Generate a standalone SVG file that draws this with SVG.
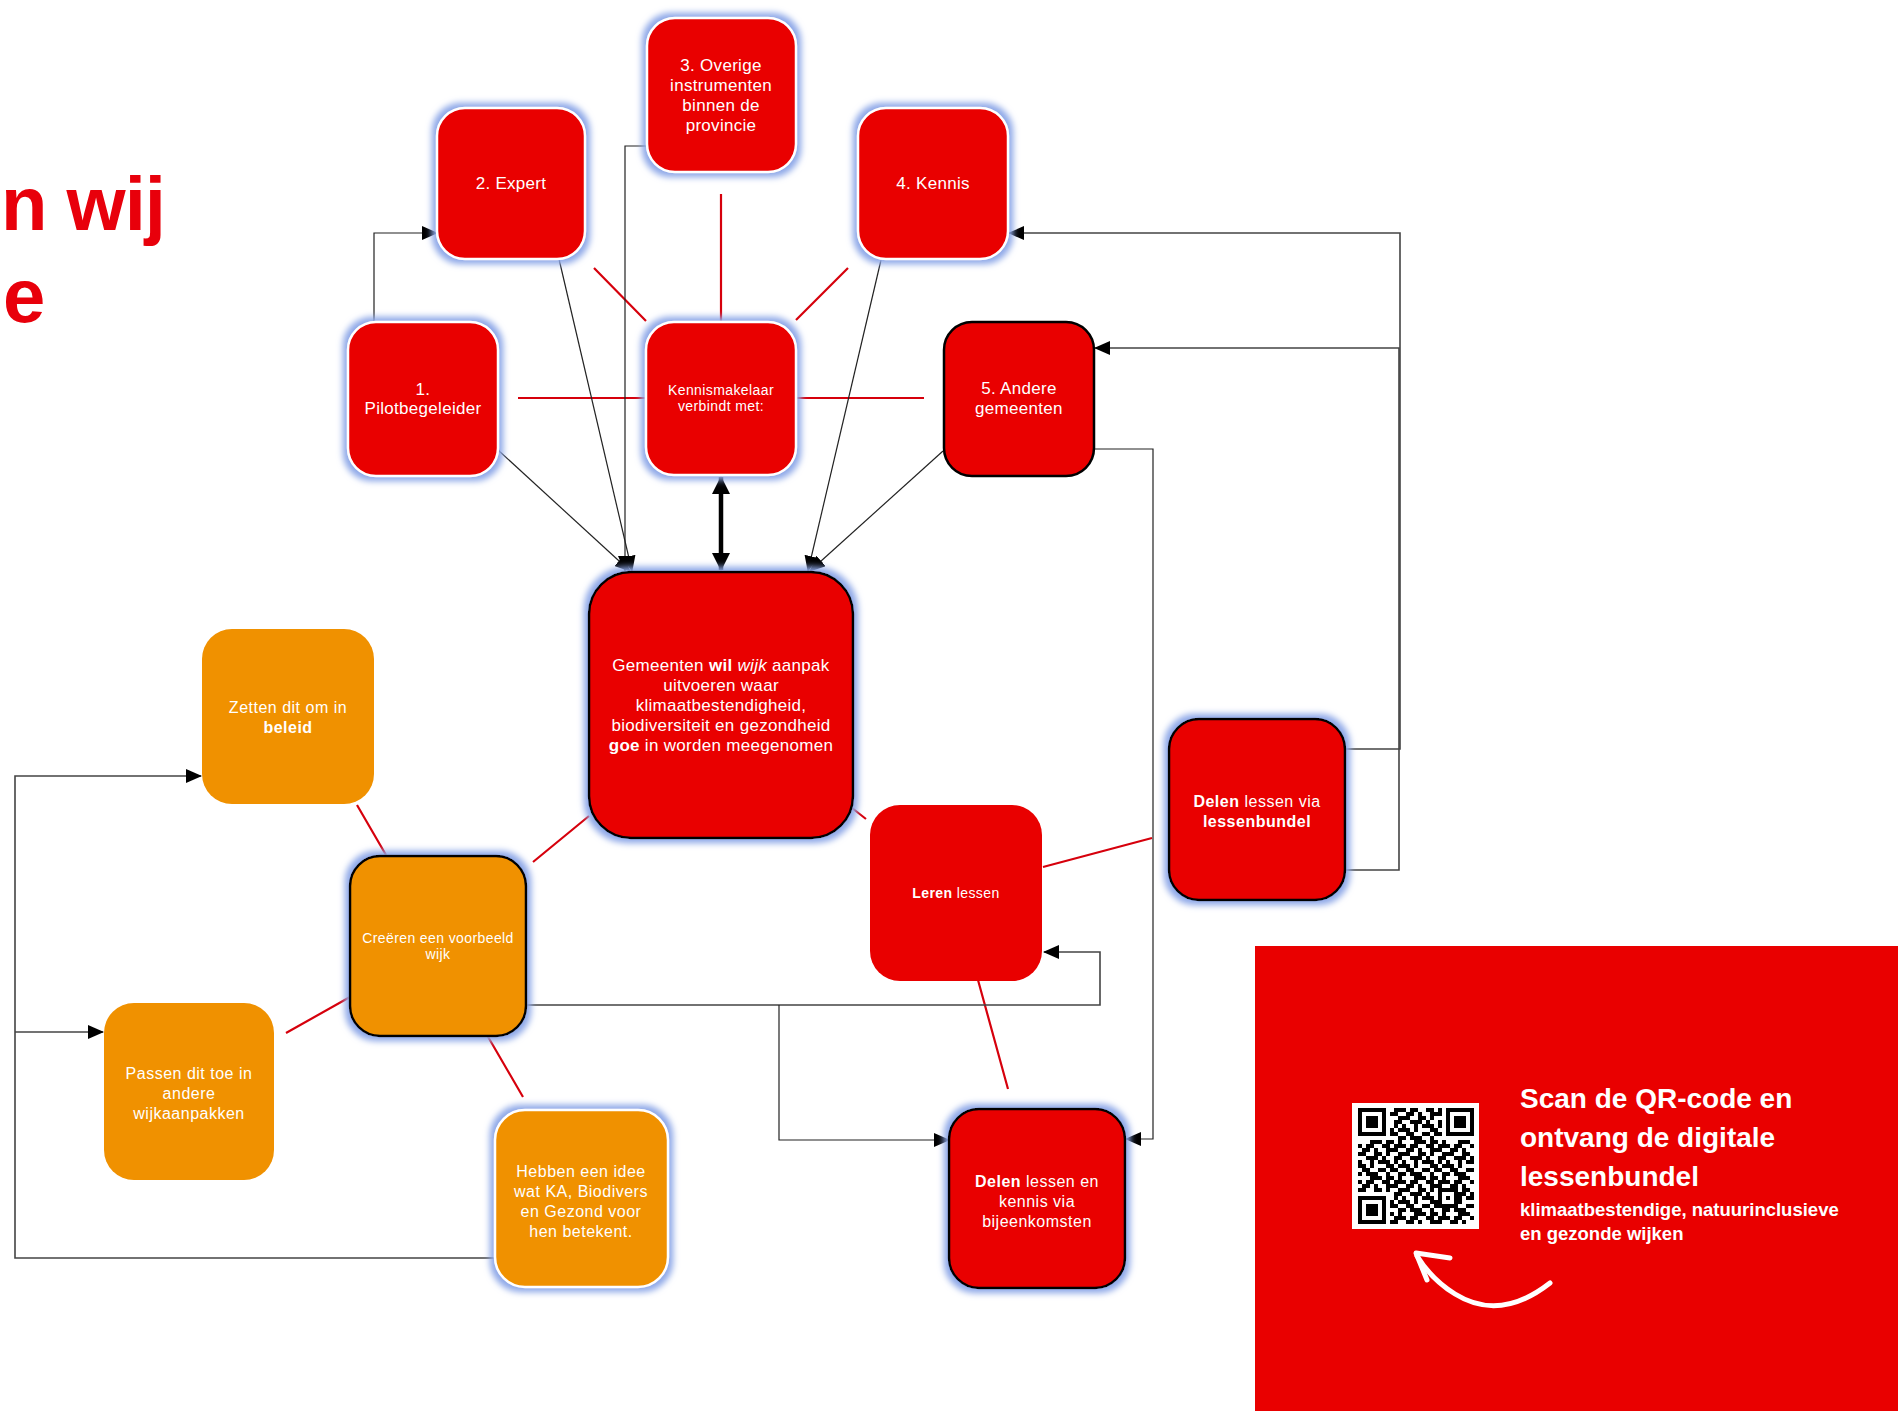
<svg xmlns="http://www.w3.org/2000/svg" width="1898" height="1411" viewBox="0 0 1898 1411">
<style>
.r{fill:#E90000}
.o{fill:#F09100}
.w{stroke:#fff;stroke-width:2.5}
.k{stroke:#000;stroke-width:2.5}
.g{filter:url(#glow)}
.t{font-family:"Liberation Sans",Arial,sans-serif;fill:#fff;text-anchor:middle;letter-spacing:0.5px;font-size:16px}
.t17{font-size:17px;letter-spacing:0.3px}
.t14{font-size:14px;letter-spacing:0.4px}
.b{font-weight:bold}
.c{fill:none;stroke:#222;stroke-width:1.2}
.cg{fill:none;stroke:#444;stroke-width:1.6}
.rl{fill:none;stroke:#D6000C;stroke-width:2.2}
</style>
<defs>
<filter id="glow" x="-20%" y="-20%" width="140%" height="140%">
<feMorphology in="SourceAlpha" operator="dilate" radius="4" result="d"/>
<feGaussianBlur in="d" stdDeviation="3" result="bl"/>
<feFlood flood-color="#8EA8E8"/>
<feComposite in2="bl" operator="in" result="gl"/>
<feMerge><feMergeNode in="gl"/><feMergeNode in="SourceGraphic"/></feMerge>
</filter>
<marker id="ah" markerUnits="userSpaceOnUse" markerWidth="16" markerHeight="14" refX="15" refY="7" orient="auto"><path d="M0,0 L16,7 L0,14 z" fill="#000"/></marker>
<marker id="ahb" markerUnits="userSpaceOnUse" markerWidth="18" markerHeight="18" refX="17" refY="9" orient="auto-start-reverse"><path d="M0,0 L18,9 L0,18 z" fill="#000"/></marker>
<pattern id="qrp" patternUnits="userSpaceOnUse" x="1358" y="1108" width="44" height="36">
<path fill="#000" d="M0,0h4v4h-4z M8,0h8v4h-8z M24,0h8v4h-8z M36,0h8v4h-8z M4,4h8v4h-8z M16,4h4v4h-4z M28,4h12v4h-12z M0,8h8v4h-8z M16,8h8v4h-8z M28,8h4v4h-4z M40,8h4v4h-4z M8,12h12v4h-12z M24,12h4v4h-4z M36,12h8v4h-8z M0,16h4v4h-4z M12,16h4v4h-4z M20,16h12v4h-12z M36,16h4v4h-4z M0,20h8v4h-8z M12,20h4v4h-4z M28,20h8v4h-8z M40,20h4v4h-4z M4,24h8v4h-8z M20,24h8v4h-8z M32,24h8v4h-8z M0,28h4v4h-4z M8,28h12v4h-12z M28,28h4v4h-4z M40,28h4v4h-4z M12,32h12v4h-12z M28,32h8v4h-8z M40,32h4v4h-4z"/>
</pattern>
</defs>
<rect width="1898" height="1411" fill="#fff"/>

<g id="title" font-family="'Liberation Sans',Arial,sans-serif" font-weight="bold" font-size="76" fill="#E8000B">
<text x="1" y="230" letter-spacing="-1">n wij</text>
<text x="3" y="322">e</text>
</g>

<g id="connectors">
<path class="rl" d="M518,398 H646 M796,398 H924 M721,194 V322 M594,268 L646,321 M848,268 L796,320"/>
<path class="rl" d="M589,816 L533,862 M357,805 L386,855 M286,1033 L350,997 M487,1035 L523,1097 M852,808 L866,819 M1043,867 L1152,838 M978,980 L1008,1089"/>
<path class="c" d="M374,322 V233 H437" marker-end="url(#ah)"/>
<path class="c" d="M498,450 L630,571" marker-end="url(#ah)"/>
<path class="c" d="M559,259 L632,571" marker-end="url(#ah)"/>
<path class="c" d="M646,146 H625 V571" marker-end="url(#ah)"/>
<path class="c" d="M881,260 L808,571" marker-end="url(#ah)"/>
<path class="c" d="M943,451 L810,571" marker-end="url(#ah)"/>
<path d="M721,477 V570" stroke="#000" stroke-width="4.5" fill="none" marker-start="url(#ahb)" marker-end="url(#ahb)"/>
<path class="cg" d="M1345,749 H1400 V233 H1009" marker-end="url(#ah)"/>
<path class="cg" d="M1345,870 H1399 V348 H1095" marker-end="url(#ah)"/>
<path class="c" d="M1094,449 H1153 V1139 H1126" marker-end="url(#ah)"/>
<path class="cg" d="M526,1005 H1100 V952 H1044" marker-end="url(#ah)"/>
<path class="c" d="M779,1005 V1140 H949" marker-end="url(#ah)"/>
<path class="cg" d="M495,1258 H15 V776 H201" marker-end="url(#ah)"/>
<path class="cg" d="M15,1032 H103" marker-end="url(#ah)"/>
</g>

<g id="n1"><rect class="r w g" x="348" y="322" width="150" height="154" rx="28"/>
<text class="t t17" x="423"><tspan x="423" y="395">1.</tspan><tspan x="423" y="414">Pilotbegeleider</tspan></text></g>

<g id="n2"><rect class="r w g" x="437" y="108" width="148" height="151" rx="28"/>
<text class="t t17" x="511" y="189">2. Expert</text></g>

<g id="n3"><rect class="r w g" x="647" y="18" width="149" height="154" rx="28"/>
<text class="t t17"><tspan x="721" y="71">3. Overige</tspan><tspan x="721" y="91">instrumenten</tspan><tspan x="721" y="111">binnen de</tspan><tspan x="721" y="131">provincie</tspan></text></g>

<g id="km"><rect class="r w g" x="646" y="322" width="150" height="153" rx="28"/>
<text class="t t14"><tspan x="721" y="395">Kennismakelaar</tspan><tspan x="721" y="411">verbindt met:</tspan></text></g>

<g id="n4"><rect class="r w g" x="858" y="108" width="150" height="151" rx="28"/>
<text class="t t17" x="933" y="189">4. Kennis</text></g>

<g id="n5"><rect class="r k" x="944" y="322" width="150" height="154" rx="28"/>
<text class="t t17"><tspan x="1019" y="394">5. Andere</tspan><tspan x="1019" y="414">gemeenten</tspan></text></g>

<g id="central"><rect class="r k g" x="589" y="572" width="264" height="266" rx="42"/>
<text class="t t17"><tspan x="721" y="671">Gemeenten <tspan class="b">wil</tspan> <tspan font-style="italic">wijk</tspan> aanpak</tspan><tspan x="721" y="691">uitvoeren waar</tspan><tspan x="721" y="711">klimaatbestendigheid,</tspan><tspan x="721" y="731">biodiversiteit en gezondheid</tspan><tspan x="721" y="751"><tspan class="b">goe</tspan> in worden meegenomen</tspan></text></g>

<g id="leren"><rect class="r" x="870" y="805" width="172" height="176" rx="30"/>
<text class="t t14" x="956" y="898"><tspan class="b">Leren</tspan> lessen</text></g>

<g id="bundel"><rect class="r k g" x="1169" y="719" width="176" height="181" rx="30"/>
<text class="t"><tspan x="1257" y="807"><tspan class="b">Delen</tspan> lessen via</tspan><tspan x="1257" y="827" class="b">lessenbundel</tspan></text></g>

<g id="bijeen"><rect class="r k g" x="949" y="1109" width="176" height="179" rx="30"/>
<text class="t"><tspan x="1037" y="1187"><tspan class="b">Delen</tspan> lessen en</tspan><tspan x="1037" y="1207">kennis via</tspan><tspan x="1037" y="1227">bijeenkomsten</tspan></text></g>

<g id="zetten"><rect class="o" x="202" y="629" width="172" height="175" rx="30"/>
<text class="t"><tspan x="288" y="713">Zetten dit om in</tspan><tspan x="288" y="733" class="b">beleid</tspan></text></g>

<g id="creeren"><rect class="o k g" x="350" y="856" width="176" height="180" rx="30"/>
<text class="t t14"><tspan x="438" y="943">Creëren een voorbeeld</tspan><tspan x="438" y="959">wijk</tspan></text></g>

<g id="passen"><rect class="o" x="104" y="1003" width="170" height="177" rx="30"/>
<text class="t"><tspan x="189" y="1079">Passen dit toe in</tspan><tspan x="189" y="1099">andere</tspan><tspan x="189" y="1119">wijkaanpakken</tspan></text></g>

<g id="hebben"><rect class="o w g" x="495" y="1110" width="173" height="177" rx="30"/>
<text class="t"><tspan x="581" y="1177">Hebben een idee</tspan><tspan x="581" y="1197">wat KA, Biodivers</tspan><tspan x="581" y="1217">en Gezond voor</tspan><tspan x="581" y="1237">hen betekent.</tspan></text></g>

<g id="qr-panel">
<rect x="1255" y="946" width="643" height="465" fill="#E90000"/>
<rect x="1352" y="1103" width="127" height="126" fill="#fff"/>
<rect x="1358" y="1108" width="116" height="116" fill="url(#qrp)"/>
<rect x="1358" y="1108" width="32" height="32" fill="#fff"/>
<rect x="1442" y="1108" width="32" height="32" fill="#fff"/>
<rect x="1358" y="1192" width="32" height="32" fill="#fff"/>
<g fill="#000">
<path fill-rule="evenodd" d="M1358,1108h28v28h-28z M1362,1112v20h20v-20z M1366,1116h12v12h-12z"/>
<path fill-rule="evenodd" d="M1446,1108h28v28h-28z M1450,1112v20h20v-20z M1454,1116h12v12h-12z"/>
<path fill-rule="evenodd" d="M1358,1196h28v28h-28z M1362,1200v20h20v-20z M1366,1204h12v12h-12z"/>
</g>
<rect x="1438" y="1188" width="20" height="20" fill="#fff"/>
<path fill="#000" fill-rule="evenodd" d="M1438,1188h20v20h-20z M1442,1192v12h12v-12z M1446,1196h4v4h-4z"/>
<g font-family="'Liberation Sans',Arial,sans-serif" font-weight="bold" fill="#fff">
<text x="1520" y="1108" font-size="28">Scan de QR-code en</text>
<text x="1520" y="1147" font-size="28">ontvang de digitale</text>
<text x="1520" y="1186" font-size="28">lessenbundel</text>
<text x="1520" y="1216" font-size="18.5">klimaatbestendige, natuurinclusieve</text>
<text x="1520" y="1240" font-size="18.5">en gezonde wijken</text>
</g>
<path d="M1550,1283 Q1500,1322 1455,1294 Q1432,1280 1417,1256" fill="none" stroke="#fff" stroke-width="5" stroke-linecap="round"/>
<path d="M1450,1258 L1416,1253 L1427,1280" fill="none" stroke="#fff" stroke-width="5" stroke-linecap="round" stroke-linejoin="round"/>
</g>
</svg>
